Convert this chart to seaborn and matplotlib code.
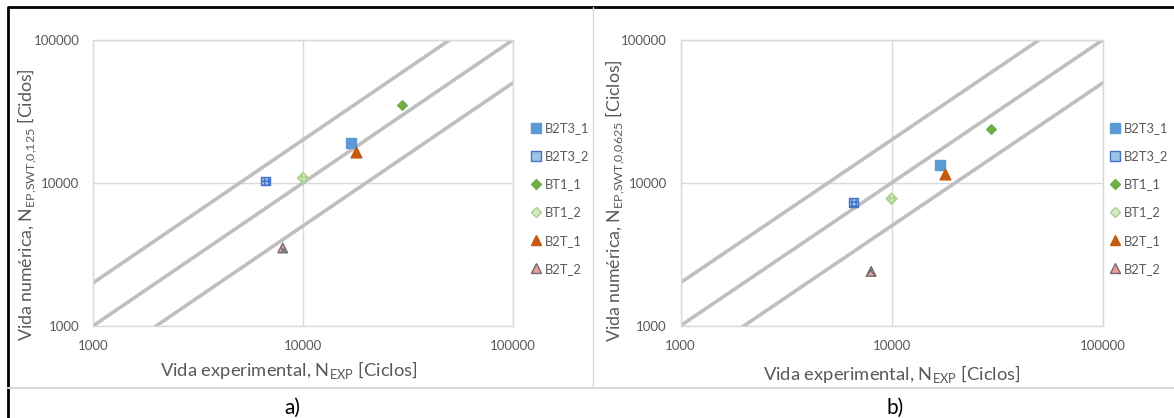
import numpy as np
import pandas as pd
import matplotlib
matplotlib.use("Agg")
import matplotlib.pyplot as plt
import seaborn as sns
from matplotlib.lines import Line2D

# Datos (ciclos)
series = ["B2T3_1", "B2T3_2", "BT1_1", "BT1_2", "B2T_1", "B2T_2"]
n_exp = [17000, 6600, 29600, 10000, 17900, 8000]
n_num_a = [19000, 10300, 35000, 10800, 16500, 3500]
n_num_b = [13400, 7300, 24000, 7750, 11500, 2400]

# Bandas de dispersión: factor 2, 1, 1/2
band_factors = [2, 1, 0.5]
ref_x = [1000, 100000]
ticks = [1000, 10000, 100000]

markers = {"B2T3_1": "s", "B2T3_2": "s", "BT1_1": "D", "BT1_2": "D", "B2T_1": "^", "B2T_2": "^"}
faces = {"B2T3_1": "#5B9BD5", "B2T3_2": "#9DC3E6", "BT1_1": "#70AD47", "BT1_2": "#D5E8C8",
         "B2T_1": "#C55A11", "B2T_2": "#EE9A9A"}
edges = {"B2T3_1": "#5B9BD5", "B2T3_2": "#4472C4", "BT1_1": "#70AD47", "BT1_2": "#A9D18E",
         "B2T_1": "#C55A11", "B2T_2": "#6F6F6F"}
hatches = {"B2T3_2": "++++", "BT1_2": "++++", "B2T_2": "xxxx"}
sizes = {"B2T3_1": 48, "B2T3_2": 40, "BT1_1": 24, "BT1_2": 32, "B2T_1": 60, "B2T_2": 48}

sns.set_theme(style="white")
plt.rcParams["font.family"] = ["Lato", "DejaVu Sans"]
plt.rcParams["mathtext.fontset"] = "custom"
plt.rcParams["mathtext.rm"] = "Lato"
txt = "#595959"

fig = plt.figure(figsize=(11.74, 4.18), dpi=100)
ax_a = fig.add_axes([0.0795, 0.2208, 0.3572, 0.6835])
ax_b = fig.add_axes([0.5797, 0.2208, 0.3595, 0.6835])

df_a = pd.DataFrame({"serie": series, "x": n_exp, "y": n_num_a})
df_b = pd.DataFrame({"serie": series, "x": n_exp, "y": n_num_b})

ylabels = [r"Vida numérica, N$_{\mathregular{EP{,}SWT{,}0{,}125}}$ [Cidos]",
           r"Vida numérica, N$_{\mathregular{EP{,}SWT{,}0{,}0625}}$ [Ciclos]"]
# posiciones de etiquetas (fracción de ejes)
xlab_pos = [(0.4665, -0.117), (0.5, -0.132)]
ylab_pos = [(-0.129, 0.424), (-0.128, 0.436)]
leg_x = [1.015, 0.99]

for i, (ax, df) in enumerate([(ax_a, df_a), (ax_b, df_b)]):
    ax.set_xscale("log")
    ax.set_yscale("log")
    for k in band_factors:
        sns.lineplot(x=ref_x, y=[v * k for v in ref_x], ax=ax, color="#BFBFBF",
                     linewidth=2.6, zorder=2)
    handles = []
    for s in series:
        sub = df[df["serie"] == s]
        sns.scatterplot(data=sub, x="x", y="y", ax=ax, marker=markers[s], s=sizes[s],
                        color=faces[s], edgecolor=edges[s], linewidth=1.0, zorder=5)
        coll = ax.collections[-1]
        if s in hatches:
            coll.set_hatch(hatches[s])
        handles.append(Line2D([], [], linestyle="none", marker=markers[s],
                              markersize=6.5 if markers[s] != "D" else 5,
                              markerfacecolor=faces[s], markeredgecolor=edges[s],
                              label=s))
    ax.set_xlim(1000, 100000)
    ax.set_ylim(1000, 100000)
    ax.minorticks_off()
    ax.set_xticks(ticks)
    ax.set_yticks(ticks)
    ax.set_xticklabels([str(t) for t in ticks])
    ax.set_yticklabels([str(t) for t in ticks])
    ax.tick_params(length=0, labelsize=9.5, labelcolor=txt, pad=10)
    ax.grid(True, color="#D9D9D9", linewidth=1.0)
    for sp in ax.spines.values():
        sp.set_color("#D9D9D9")
        sp.set_linewidth(1.0)
    ax.set_xlabel(r"Vida experimental, N$_{\mathregular{EXP}}$ [Ciclos]", fontsize=13.2,
                  color=txt)
    ax.set_ylabel(ylabels[i], fontsize=12.8, color=txt)
    ax.xaxis.set_label_coords(*xlab_pos[i])
    ax.yaxis.set_label_coords(*ylab_pos[i])
    leg = ax.legend(handles=handles, loc="center left", bbox_to_anchor=(leg_x[i], 0.4456),
                    frameon=False, fontsize=9.3, labelspacing=1.25, handletextpad=0.1,
                    handlelength=1.2, borderaxespad=0.3)
    for t in leg.get_texts():
        t.set_color(txt)

# Marco y separadores
fig.add_artist(Line2D([0.0064, 0.0064, 1.0], [0.0, 0.984, 0.984], color="black", linewidth=2))
fig.add_artist(Line2D([0.505, 0.505], [0.072, 0.984], color="#D9D9D9", linewidth=1))
fig.add_artist(Line2D([0.0064, 1.0], [0.072, 0.072], color="#D9D9D9", linewidth=1.5))
fig.text(0.2494, 0.024, "a)", ha="center", va="center", fontsize=15, color="black")
fig.text(0.7627, 0.024, "b)", ha="center", va="center", fontsize=15, color="black")

fig.savefig("out.png", dpi=100)
